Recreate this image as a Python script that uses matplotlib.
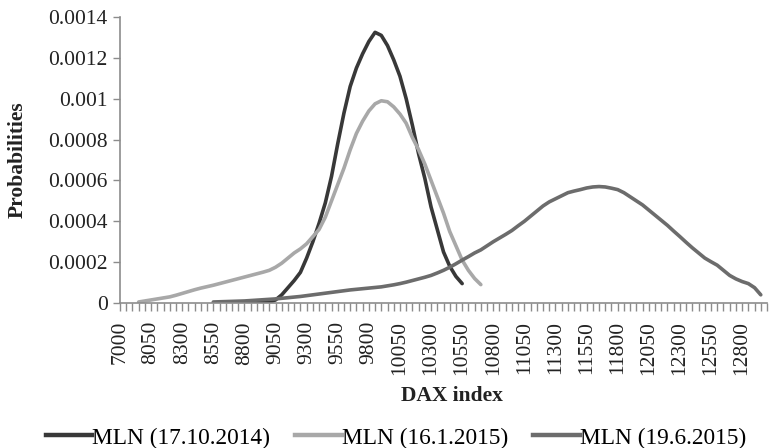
import numpy as np
import matplotlib
matplotlib.use("Agg")
import matplotlib.pyplot as plt
from matplotlib.ticker import FixedLocator, FuncFormatter
from matplotlib.lines import Line2D

# ---------------- data ----------------
categories = [7000] + list(range(7850, 13001, 50))
tick_labels = ["7000", "8050", "8300", "8550", "8800", "9050", "9300", "9550",
               "9800", "10050", "10300", "10550", "10800", "11050", "11300",
               "11550", "11800", "12050", "12300", "12550", "12800"]
y_ticks = [0, 0.0002, 0.0004, 0.0006, 0.0008, 0.001, 0.0012, 0.0014]

series_names = ["MLN (17.10.2014)", "MLN (16.1.2015)", "MLN (19.6.2015)"]

# MLN (17.10.2014), starts at DAX 8550
dark_start = 8550
dark_vals = [0.0e-4, 0.0e-4, 0.0e-4, 0.0e-4, 0.0e-4, 0.0e-4, 0.01e-4, 0.01e-4,
             0.02e-4, 0.04e-4, 0.15e-4, 0.4e-4, 0.75e-4, 1.1e-4, 1.5e-4, 2.2e-4,
             3.0e-4, 3.9e-4, 4.9e-4, 6.2e-4, 7.8e-4, 9.3e-4, 10.6e-4, 11.5e-4,
             12.2e-4, 12.8e-4, 13.25e-4, 13.1e-4, 12.6e-4, 11.9e-4, 11.1e-4,
             10.0e-4, 8.7e-4, 7.3e-4, 6.1e-4, 4.7e-4, 3.6e-4, 2.5e-4, 1.8e-4,
             1.3e-4, 0.95e-4]

# MLN (16.1.2015), starts at DAX 7950
light_start = 7950
light_vals = [0.05e-4, 0.1e-4, 0.15e-4, 0.2e-4, 0.25e-4, 0.3e-4, 0.38e-4, 0.47e-4,
              0.56e-4, 0.65e-4, 0.73e-4, 0.8e-4, 0.87e-4, 0.95e-4, 1.03e-4,
              1.11e-4, 1.19e-4, 1.27e-4, 1.35e-4, 1.43e-4, 1.51e-4, 1.6e-4,
              1.75e-4, 1.95e-4, 2.2e-4, 2.45e-4, 2.65e-4, 2.9e-4, 3.25e-4,
              3.6e-4, 4.2e-4, 5.0e-4, 5.8e-4, 6.6e-4, 7.5e-4, 8.3e-4, 8.9e-4,
              9.4e-4, 9.75e-4, 9.9e-4, 9.85e-4, 9.6e-4, 9.25e-4, 8.8e-4, 8.1e-4,
              7.5e-4, 6.8e-4, 6.0e-4, 5.2e-4, 4.4e-4, 3.5e-4, 2.8e-4, 2.1e-4,
              1.6e-4, 1.2e-4, 0.9e-4]

# MLN (19.6.2015), starts at DAX 8550
mid_start = 8550
mid_vals = [0.05e-4, 0.06e-4, 0.07e-4, 0.08e-4, 0.09e-4, 0.10e-4, 0.12e-4, 0.14e-4,
            0.16e-4, 0.18e-4, 0.20e-4, 0.23e-4, 0.26e-4, 0.29e-4, 0.32e-4, 0.36e-4,
            0.40e-4, 0.44e-4, 0.48e-4, 0.52e-4, 0.56e-4, 0.60e-4, 0.64e-4, 0.67e-4,
            0.70e-4, 0.73e-4, 0.76e-4, 0.79e-4, 0.84e-4, 0.89e-4, 0.95e-4, 1.02e-4,
            1.10e-4, 1.18e-4, 1.26e-4, 1.35e-4, 1.47e-4, 1.60e-4, 1.75e-4, 1.92e-4,
            2.10e-4, 2.27e-4, 2.45e-4, 2.60e-4, 2.80e-4, 3.00e-4, 3.18e-4, 3.36e-4,
            3.55e-4, 3.78e-4, 4.00e-4, 4.25e-4, 4.50e-4, 4.75e-4, 4.95e-4, 5.10e-4,
            5.25e-4, 5.40e-4, 5.48e-4, 5.55e-4, 5.63e-4, 5.68e-4, 5.70e-4, 5.68e-4,
            5.62e-4, 5.55e-4, 5.40e-4, 5.20e-4, 5.00e-4, 4.80e-4, 4.55e-4, 4.30e-4,
            4.05e-4, 3.80e-4, 3.52e-4, 3.25e-4, 2.97e-4, 2.70e-4, 2.45e-4, 2.20e-4,
            2.02e-4, 1.85e-4, 1.60e-4, 1.35e-4, 1.18e-4, 1.05e-4, 0.95e-4, 0.75e-4,
            0.40e-4]

# ---------------- plot ----------------
colors = ["#383838", "#a8a8a8", "#6c6c6c"]
serif = ["Liberation Serif", "DejaVu Serif"]

fig = plt.figure(figsize=(7.7, 4.48), dpi=100)
ax = fig.add_axes([120 / 770, 1 - 303 / 448, 647 / 770, 286 / 448])

def xpos(start, vals):
    i0 = categories.index(start)
    return np.arange(i0, i0 + len(vals))

for name, start, vals, c in zip(series_names,
                                [dark_start, light_start, mid_start],
                                [dark_vals, light_vals, mid_vals], colors):
    ax.plot(xpos(start, vals), vals, color=c, lw=2.6, solid_capstyle="round",
            solid_joinstyle="round", label=name)

ax.set_xlim(0, len(categories) - 1)
ax.set_ylim(0, 0.0014)

ax.xaxis.set_major_locator(FixedLocator([categories.index(int(t)) for t in tick_labels]))
ax.set_xticklabels(tick_labels, rotation=90, fontsize=15.5, family=serif,
                   color="#222222")
ax.xaxis.set_minor_locator(FixedLocator(range(len(categories))))
ax.tick_params(axis="x", which="both", length=6, width=1, color="#8c8c8c",
               direction="out", pad=7)

ax.set_yticks(y_ticks)
ax.yaxis.set_major_formatter(FuncFormatter(lambda v, p: "0" if v == 0 else "%g" % v))
for lbl in ax.get_yticklabels():
    lbl.set_family(serif)
    lbl.set_fontsize(15.5)
    lbl.set_color("#222222")
ax.tick_params(axis="y", length=5, width=1, color="#8c8c8c", pad=4)

for s in ["top", "right"]:
    ax.spines[s].set_visible(False)
for s in ["left", "bottom"]:
    ax.spines[s].set_color("#8c8c8c")
    ax.spines[s].set_linewidth(1.2)

fig.text(18 / 770, 1 - 160 / 448, "Probabilities", rotation=90, ha="center",
         va="center", family=serif, fontweight="bold", fontsize=15.5, color="#222222")
fig.text(452 / 770, 1 - 396 / 448, "DAX index", ha="center", va="center",
         family=serif, fontweight="bold", fontsize=15.5, color="#222222")

handles = [Line2D([0], [0], color=c, lw=3.2) for c in colors]
fig.legend(handles, series_names, loc="center", bbox_to_anchor=(396 / 770, 1 - 438 / 448),
           ncol=3, frameon=False, prop={"family": serif, "size": 16.8},
           handlelength=2.0, handletextpad=0.0, columnspacing=1.07,
           borderaxespad=0, borderpad=0)

fig.savefig("out.png", dpi=100)
